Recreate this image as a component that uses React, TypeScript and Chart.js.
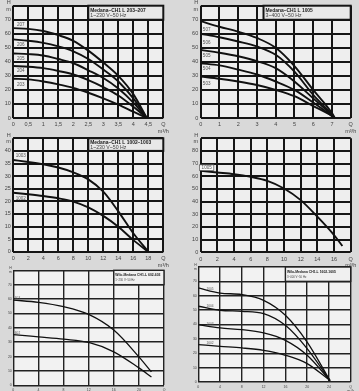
import React, { useEffect, useRef } from "react";
import { Chart, registerables } from "chart.js";
Chart.register(...registerables);

// ---------- Panel 1: Medana-CH1 L 203-207 ----------
const p1Q = [0, 0.5, 1, 1.5, 2, 2.5, 3, 3.5, 4, 4.45];
const p1H207 = [64, 63.5, 62, 59, 55, 48, 39.5, 30, 17, 0];
const p1H206 = [56, 55, 53.5, 51, 47.5, 42, 34.5, 26, 14, 0];
const p1H205 = [46, 45.5, 44.5, 42, 39, 34, 28.5, 21, 11, 0];
const p1H204 = [37, 36.5, 35.5, 33.5, 31, 27, 22, 16, 8, 0];
const p1H203 = [28, 27.5, 26, 24, 21.5, 18, 14, 9.5, 4.5, 0];
const p1Names = ["207", "206", "205", "204", "203"];

// ---------- Panel 2: Medana-CH1 L 1005 (503-507) ----------
const p2Q = [0, 1, 2, 3, 4, 5, 6, 7, 7.15];
const p2H507 = [69, 65, 61.5, 57, 50, 37, 20, 3.5, 0];
const p2H506 = [60, 57.5, 54.5, 51, 45, 33, 16.5, 2.5, 0];
const p2H505 = [48.5, 46.5, 44, 40.5, 35.5, 26, 14, 2, 0];
const p2H504 = [39, 37.5, 34.5, 31, 26, 20, 11, 1.5, 0];
const p2H503 = [29.5, 28, 26, 23.5, 20, 15.5, 8.5, 1.5, 0];
const p2Names = ["507", "506", "505", "504", "503"];

// ---------- Panel 3: Medana-CH1 L 1002-1003 ----------
const p3Q = [0, 2, 4, 6, 8, 10, 12, 14, 16, 18];
const p3H1003 = [36.4, 35.6, 34.7, 33.4, 31.5, 28.7, 23.8, 16, 7.3, 0];
const p3H1002 = [23.4, 22.8, 22.1, 21.2, 19.9, 17.6, 14.2, 9.9, 4.6, 0];
const p3Names = ["1003", "1002"];

// ---------- Panel 4: 1005 ----------
const p4Q = [0, 2, 4, 6, 8, 10, 12, 14, 16, 17];
const p4H1005 = [64.3, 63, 61.7, 59.6, 56.4, 50.4, 41.2, 28.1, 13.6, 5];
const p4Names = ["1005"];

// ---------- Panel 5 ----------
const p5Q = [0, 4, 8, 12, 16, 20, 22];
const p5H603 = [59.3, 57.7, 54.7, 49.3, 38.4, 19.8, 9.3];
const p5H602 = [35.3, 33.7, 32.1, 29.8, 23.3, 12.1, 5.8];
const p5Names = ["603", "602"];

// ---------- Panel 6 ----------
const p6Q = [0, 4, 8, 12, 16, 20, 24.2];
const p6H1605 = [65.4, 61.9, 60.8, 56.8, 46.4, 27.8, 1];
const p6H1604 = [52.7, 49.9, 49.2, 47.6, 39.4, 23.2, 1];
const p6H1603 = [39.9, 37.6, 36.4, 34.1, 29.0, 18.6, 1];
const p6H1602 = [26, 24.8, 23.7, 22, 18.6, 12.8, 1];
const p6Names = ["1605", "1604", "1603", "1602"];

const FONT = "'Liberation Sans', Arial, sans-serif";

type Panel = {
  left: number; top: number; w: number; h: number;
  area: { l: number; r: number; t: number; b: number };
  xMax: number; xStep: number; yMax: number; yStep: number;
  q: number[]; hs: number[][]; names: string[]; dys: number[];
  labelQ: number;
  title?: { q0: number; h0: number; lines: string[] };
  kind: "a" | "b";
  labelBox?: boolean;
};

const panels: Panel[] = [
  {
    left: 0, top: 0, w: 180, h: 136,
    area: { l: 13.3, r: 163.3, t: 5.7, b: 118 },
    xMax: 5, xStep: 0.5, yMax: 80, yStep: 10,
    q: p1Q, hs: [p1H207, p1H206, p1H205, p1H204, p1H203], names: p1Names,
    dys: [-3.5, 5, 4.6, 4.6, 5.3], labelQ: 0.25,
    title: { q0: 2.5, h0: 70, lines: ["Medana–CH1 L 203–207", "1~230 V~50 Hz"] },
    kind: "a",
  },
  {
    left: 180, top: 0, w: 179, h: 136,
    area: { l: 20.7, r: 170.7, t: 5.7, b: 118 },
    xMax: 8, xStep: 1, yMax: 80, yStep: 10,
    q: p2Q, hs: [p2H507, p2H506, p2H505, p2H504, p2H503], names: p2Names,
    dys: [6.3, 7.8, 5, 5.3, 6.7], labelQ: 0.32,
    title: { q0: 3.35, h0: 70, lines: ["Medana–CH1 L 1005", "3~400 V~50 Hz"] },
    kind: "a",
  },
  {
    left: 0, top: 130, w: 180, h: 138,
    area: { l: 13.3, r: 163.3, t: 8.3, b: 121.7 },
    xMax: 20, xStep: 2, yMax: 45, yStep: 5,
    q: p3Q, hs: [p3H1003, p3H1002], names: p3Names,
    dys: [-5, 4.8], labelQ: 1,
    title: { q0: 10, h0: 40, lines: ["Medana–CH1 L 1002–1003", "1~230 V~50 Hz"] },
    kind: "a",
  },
  {
    left: 180, top: 130, w: 179, h: 138,
    area: { l: 20.7, r: 170.7, t: 8.3, b: 122.3 },
    xMax: 18, xStep: 2, yMax: 90, yStep: 10,
    q: p4Q, hs: [p4H1005], names: p4Names,
    dys: [-3.8], labelQ: 0.72,
    kind: "a", labelBox: true,
  },
  {
    left: 0, top: 262, w: 180, h: 129,
    area: { l: 13.3, r: 164, t: 8.3, b: 123.3 },
    xMax: 24, xStep: 4, yMax: 80, yStep: 10,
    q: p5Q, hs: [p5H603, p5H602], names: p5Names,
    dys: [-2.5, -2], labelQ: 0.67,
    title: { q0: 16, h0: 70, lines: ["Wilo-Medana CH1-L 602-603", "1~230 V~50 Hz"] },
    kind: "b",
  },
  {
    left: 180, top: 262, w: 179, h: 129,
    area: { l: 18.3, r: 170.7, t: 5, b: 120 },
    xMax: 28, xStep: 4, yMax: 80, yStep: 10,
    q: p6Q, hs: [p6H1605, p6H1604, p6H1603, p6H1602], names: p6Names,
    dys: [-2, -2, -2, -2], labelQ: 2.15,
    title: { q0: 16, h0: 70, lines: ["Wilo-Medana CH1-L 1602-1605", "3~400 V~50 Hz"] },
    kind: "b",
  },
];

function interp(q: number[], h: number[], x: number) {
  for (let i = 0; i < q.length - 1; i++) {
    if (x >= q[i] && x <= q[i + 1]) {
      const t = (x - q[i]) / (q[i + 1] - q[i]);
      return h[i] + t * (h[i + 1] - h[i]);
    }
  }
  return h[0];
}

function fmt(v: number) {
  return String(Number(v.toFixed(2))).replace(".", ",");
}

function PanelChart({ p }: { p: Panel }) {
  const ref = useRef<HTMLCanvasElement>(null);
  useEffect(() => {
    const a = p.kind === "a";
    const tickSize = a ? 5.5 : 3.5;
    const gridColor = a ? "#151515" : "#222222";
    const gridW = a ? 2 : 1.4;
    const plotBg = a ? "#eeeeee" : "#f2f2f2";

    const overlay = {
      id: "overlay" + p.left + "_" + p.top,
      beforeDraw(chart: any) {
        const { ctx, chartArea: ca } = chart;
        ctx.save();
        ctx.fillStyle = plotBg;
        ctx.fillRect(ca.left, ca.top, ca.right - ca.left, ca.bottom - ca.top);
        ctx.restore();
      },
      afterDatasetsDraw(chart: any) {
        const { ctx, chartArea: ca } = chart;
        const xs = chart.scales.x;
        const ys = chart.scales.y;
        ctx.save();
        if (p.title) {
          const x0 = xs.getPixelForValue(p.title.q0);
          const y1 = ys.getPixelForValue(p.title.h0);
          ctx.fillStyle = a ? "#e8e8e8" : "#f0f0f0";
          ctx.fillRect(x0, ca.top, ca.right - x0, y1 - ca.top);
          ctx.strokeStyle = gridColor;
          ctx.lineWidth = gridW;
          ctx.strokeRect(x0, ca.top, ca.right - x0, y1 - ca.top);
          const hgt = y1 - ca.top;
          ctx.textBaseline = "middle";
          ctx.textAlign = "left";
          ctx.fillStyle = "#1a1a1a";
          ctx.font = `bold ${a ? 4.9 : 3.4}px ${FONT}`;
          ctx.fillText(p.title.lines[0], x0 + (a ? 2 : 1.5), ca.top + hgt * 0.32);
          ctx.fillStyle = "#444";
          ctx.font = `${a ? 5.2 : 2.8}px ${FONT}`;
          ctx.fillText(p.title.lines[1], x0 + (a ? 2 : 1.5), ca.top + hgt * 0.7);
        }
        p.names.forEach((name, i) => {
          const x = xs.getPixelForValue(p.labelQ);
          const y = ys.getPixelForValue(interp(p.q, p.hs[i], p.labelQ)) + p.dys[i];
          ctx.font = `${a ? 4.6 : 3.2}px ${FONT}`;
          ctx.textAlign = "center";
          ctx.textBaseline = "middle";
          if (p.labelBox) {
            const tw = ctx.measureText(name).width;
            ctx.fillStyle = "#fbfbfb";
            ctx.fillRect(x - tw / 2 - 2, y - 2.8, tw + 4, 5.6);
            ctx.strokeStyle = "#555";
            ctx.lineWidth = 0.7;
            ctx.strokeRect(x - tw / 2 - 2, y - 2.8, tw + 4, 5.6);
          }
          ctx.fillStyle = "#555";
          ctx.fillText(name, x, y);
        });
        ctx.restore();
      },
    };

    const chart = new Chart(ref.current as HTMLCanvasElement, {
      type: "line",
      data: {
        datasets: p.hs.map((h, i) => ({
          label: p.names[i],
          data: p.q.map((x, j) => ({ x, y: h[j] })),
          borderColor: "#111",
          borderWidth: a ? 1.9 : 1.3,
          pointRadius: 0,
          fill: false,
          cubicInterpolationMode: "monotone" as const,
        })),
      },
      options: {
        responsive: false,
        animation: false,
        devicePixelRatio: 1,
        layout: { padding: { left: 0, top: p.area.t, right: p.w - p.area.r, bottom: 0 } },
        plugins: { legend: { display: false }, tooltip: { enabled: false } },
        events: [],
        scales: {
          x: {
            type: "linear",
            min: 0,
            max: p.xMax,
            grid: { color: gridColor, lineWidth: gridW, drawTicks: false },
            border: { display: false },
            ticks: {
              stepSize: p.xStep,
              autoSkip: false,
              maxRotation: 0,
              padding: a ? 3.5 : 2.5,
              color: "#444",
              font: { size: tickSize, family: FONT },
              callback: (v: any) => (Math.abs(v - p.xMax) < 1e-6 ? ["Q", "m³/h"] : fmt(v)),
            },
            afterFit: (s: any) => {
              s.height = p.h - p.area.b;
              s.paddingLeft = 0;
              s.paddingRight = 0;
            },
          },
          y: {
            type: "linear",
            min: 0,
            max: p.yMax,
            grid: { color: gridColor, lineWidth: gridW, drawTicks: false },
            border: { display: false },
            ticks: {
              stepSize: p.yStep,
              autoSkip: false,
              padding: a ? 2.5 : 1.5,
              color: "#444",
              font: { size: tickSize, family: FONT },
              callback: (v: any) => (Math.abs(v - p.yMax) < 1e-6 ? ["H", "m"] : fmt(v)),
            },
            afterFit: (s: any) => {
              s.width = p.area.l;
              s.paddingTop = 0;
              s.paddingBottom = 0;
            },
          },
        },
      } as any,
      plugins: [overlay],
    });
    return () => chart.destroy();
  }, []);
  return (
    <canvas
      ref={ref}
      width={p.w}
      height={p.h}
      style={{ position: "absolute", left: p.left, top: p.top, width: p.w, height: p.h }}
    />
  );
}

export default function App() {
  return (
    <div
      style={{
        position: "fixed",
        left: 0,
        top: 0,
        width: 359,
        height: 391,
        background: "#d9d9d9",
        overflow: "hidden",
      }}
    >
      {panels.map((p, i) => (
        <PanelChart key={i} p={p} />
      ))}
    </div>
  );
}
